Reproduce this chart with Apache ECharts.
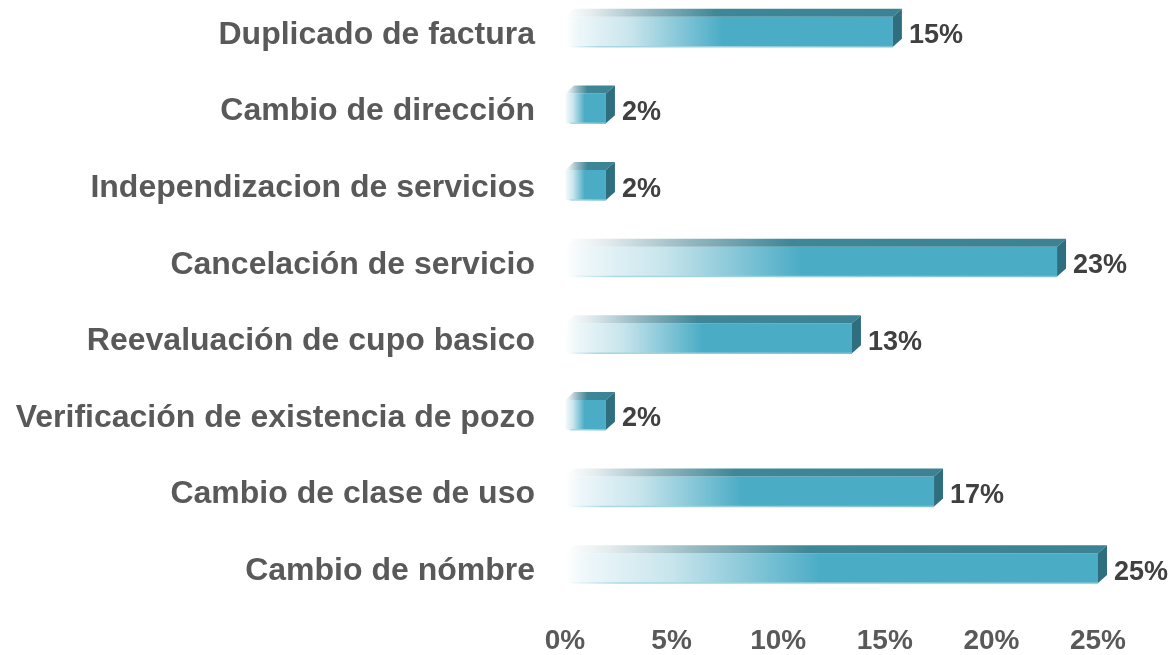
<!DOCTYPE html>
<html>
<head>
<meta charset="utf-8">
<script src="https://cdn.jsdelivr.net/npm/echarts@6/dist/echarts.min.js"></script>
<style>
html,body{margin:0;padding:0;background:#fff;}
#chart{width:1172px;height:655px;}
</style>
</head>
<body>
<div id="chart"></div>
<script>
const categories = [
  'Duplicado de factura',
  'Cambio de dirección',
  'Independizacion de servicios',
  'Cancelación de servicio',
  'Reevaluación de cupo basico',
  'Verificación de existencia de pozo',
  'Cambio de clase de uso',
  'Cambio de nómbre'
];
const values = [15.38, 1.92, 1.92, 23.08, 13.46, 1.92, 17.31, 25.0];
const axisMin = 0, axisMax = 25, axisStep = 5;

const chart = echarts.init(document.getElementById('chart'), null, {renderer: 'canvas'});
const FONT = '"Liberation Sans", Arial, sans-serif';

function renderItem(params, api) {
  const cat = api.value(0);
  const val = api.value(1);
  const p1 = api.coord([val, cat]);
  const p0 = api.coord([0, cat]);
  const band = api.size([0, 1])[1];
  const h = band * 0.39;
  const shift = band * 0.085;
  const dx = 9, dy = 8;
  const x0 = p0[0], x1 = p1[0], yc = p1[1] - shift;
  const yt = yc - h / 2, yb = yc + h / 2;
  const w = x1 - x0;
  const front = {
    type: 'rect',
    shape: {x: x0, y: yt, width: w, height: h},
    style: {
      fill: new echarts.graphic.LinearGradient(0, 0, 1, 0, [
        {offset: 0, color: 'rgba(255,255,255,1)'},
        {offset: 0.04, color: '#EEF7FA'},
        {offset: 0.2, color: '#C8E5EC'},
        {offset: 0.48, color: '#4BACC6'},
        {offset: 1, color: '#4BACC6'}
      ])
    }
  };
  const bottomLine = {
    type: 'line',
    shape: {x1: x0 + 4, y1: yb, x2: x1, y2: yb},
    style: {
      stroke: new echarts.graphic.LinearGradient(0, 0, 1, 0, [
        {offset: 0, color: 'rgba(160,212,225,0)'},
        {offset: 0.1, color: '#A8D8E4'},
        {offset: 1, color: '#7FC2D4'}
      ]),
      lineWidth: 1.5
    }
  };
  const top = {
    type: 'polygon',
    shape: {points: [[x0, yt], [x1, yt], [x1 + dx, yt - dy], [x0 + dx, yt - dy]]},
    style: {
      fill: new echarts.graphic.LinearGradient(0, 0, 1, 0, [
        {offset: 0, color: 'rgba(255,255,255,1)'},
        {offset: 0.08, color: '#E4ECEE'},
        {offset: 0.25, color: '#93B7C0'},
        {offset: 0.45, color: '#3E8798'},
        {offset: 1, color: '#3A8294'}
      ])
    }
  };
  const side = {
    type: 'polygon',
    shape: {points: [[x1, yt], [x1 + dx, yt - dy], [x1 + dx, yb - dy], [x1, yb]]},
    style: {fill: '#2F6E7E'}
  };
  const label = {
    type: 'text',
    x: x1 + dx + 7,
    y: yc + 4,
    style: {
      text: Math.round(val) + '%',
      font: 'bold 27px ' + FONT,
      fill: '#404040',
      verticalAlign: 'middle',
      align: 'left'
    }
  };
  return {type: 'group', children: [front, bottomLine, top, side, label]};
}

chart.setOption({
  animation: false,
  backgroundColor: '#ffffff',
  grid: {left: 565, right: 74, top: 0, bottom: 39, containLabel: false},
  xAxis: {
    type: 'value',
    min: axisMin, max: axisMax, interval: axisStep,
    axisLine: {show: false}, axisTick: {show: false}, splitLine: {show: false},
    axisLabel: {
      formatter: '{value}%',
      fontFamily: FONT, fontWeight: 'bold', fontSize: 28, color: '#595959', margin: 14
    }
  },
  yAxis: {
    type: 'category',
    data: categories,
    inverse: true,
    axisLine: {show: false}, axisTick: {show: false}, splitLine: {show: false},
    axisLabel: {
      fontFamily: FONT, fontWeight: 'bold', fontSize: 32, color: '#595959', margin: 30,
      verticalAlign: 'bottom', lineHeight: 7
    }
  },
  series: [{
    type: 'custom',
    renderItem: renderItem,
    encode: {x: 1, y: 0},
    data: values.map((v, i) => [i, v]),
    clip: false
  }]
});
</script>
</body>
</html>
